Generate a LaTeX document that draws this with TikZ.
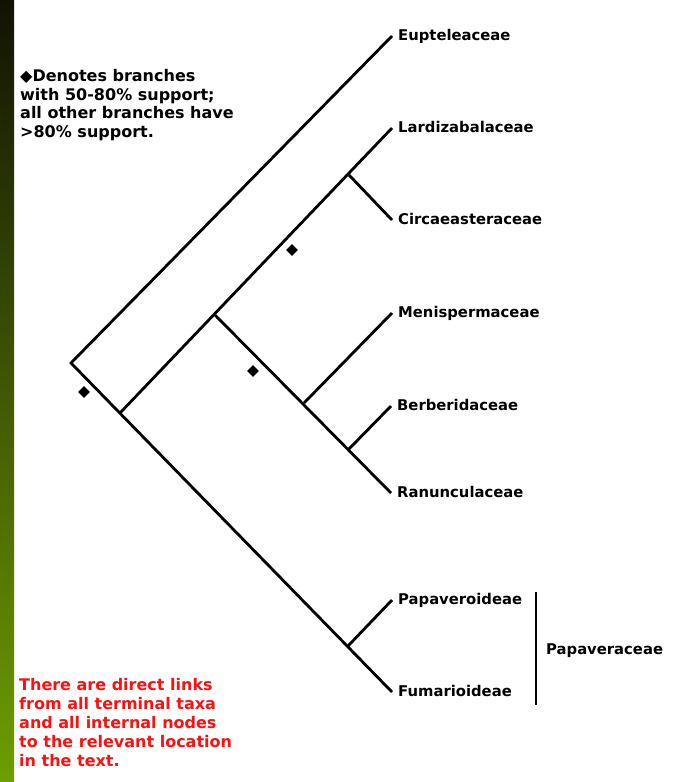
\documentclass[tikz,border=0pt]{standalone}
\usepackage{fontspec}
\setmainfont{DejaVu Sans}
\usetikzlibrary{shapes.geometric}
\definecolor{barTop}{RGB}{18,18,4}
\definecolor{barBottom}{RGB}{110,158,0}
\definecolor{noteRed}{RGB}{255,16,16}
\tikzset{
  branch/.style={line width=2.8pt},
  taxon/.style={anchor=west, inner xsep=6pt, inner ysep=0pt, text height=11pt, text depth=3pt, font=\bfseries\fontsize{14.8}{18}\selectfont},
  support/.style={diamond, fill=black, inner sep=0pt, minimum width=12pt, minimum height=12pt},
  note/.style={anchor=base west, inner sep=0pt, align=left, font=\bfseries\fontsize{16}{18.8}\selectfont}
}
\begin{document}
\begin{tikzpicture}[x=1pt,y=-1pt]
\useasboundingbox (0,0) rectangle (673,782);
\fill[white] (0,0) rectangle (673,782);
\shade[top color=barTop, bottom color=barBottom] (0,0) rectangle (14,782);
\node[note] (legend) at (20,137.7) {◆Denotes branches\\with 50-80\% support;\\all other branches have\\>80\% support.};
\node[note, text=noteRed] (links) at (19,766) {There are direct links\\from all terminal taxa\\and all internal nodes\\to the relevant location\\in the text.};
\node[taxon] (eup) at (392,36) {Eupteleaceae};
\node[taxon] (lar) at (392,128) {Lardizabalaceae};
\node[taxon] (cir) at (392,220) {Circaeasteraceae};
\node[taxon] (men) at (392,313) {Menispermaceae};
\node[taxon] (ber) at (391,406) {Berberidaceae};
\node[taxon] (ran) at (391,493) {Ranunculaceae};
\node[taxon] (pap) at (392,600) {Papaveroideae};
\node[taxon] (fum) at (392,692) {Fumarioideae};
\node[taxon] (papfam) at (540,650) {Papaveraceae};
\coordinate (root) at (71,363);
\coordinate (nA) at (120,413);
\coordinate (nB) at (215,315);
\coordinate (nC) at (349,175);
\coordinate (nD) at (304,403);
\coordinate (nE) at (348,450);
\coordinate (nF) at (348,646);
\coordinate (famTop) at (536,592);
\coordinate (famBot) at (536,705);
\draw[branch] (eup.west) -- (root) -- (fum.west);
\draw[branch] (nA) -- (lar.west);
\draw[branch] (nC) -- (cir.west);
\draw[branch] (nB) -- (ran.west);
\draw[branch] (nD) -- (men.west);
\draw[branch] (nE) -- (ber.west);
\draw[branch] (nF) -- (pap.west);
\draw[branch] (famTop) -- (famBot);
\node[support] (s1) at (84,392) {};
\node[support] (s2) at (292,250) {};
\node[support] (s3) at (253,371) {};
\end{tikzpicture}
\end{document}
